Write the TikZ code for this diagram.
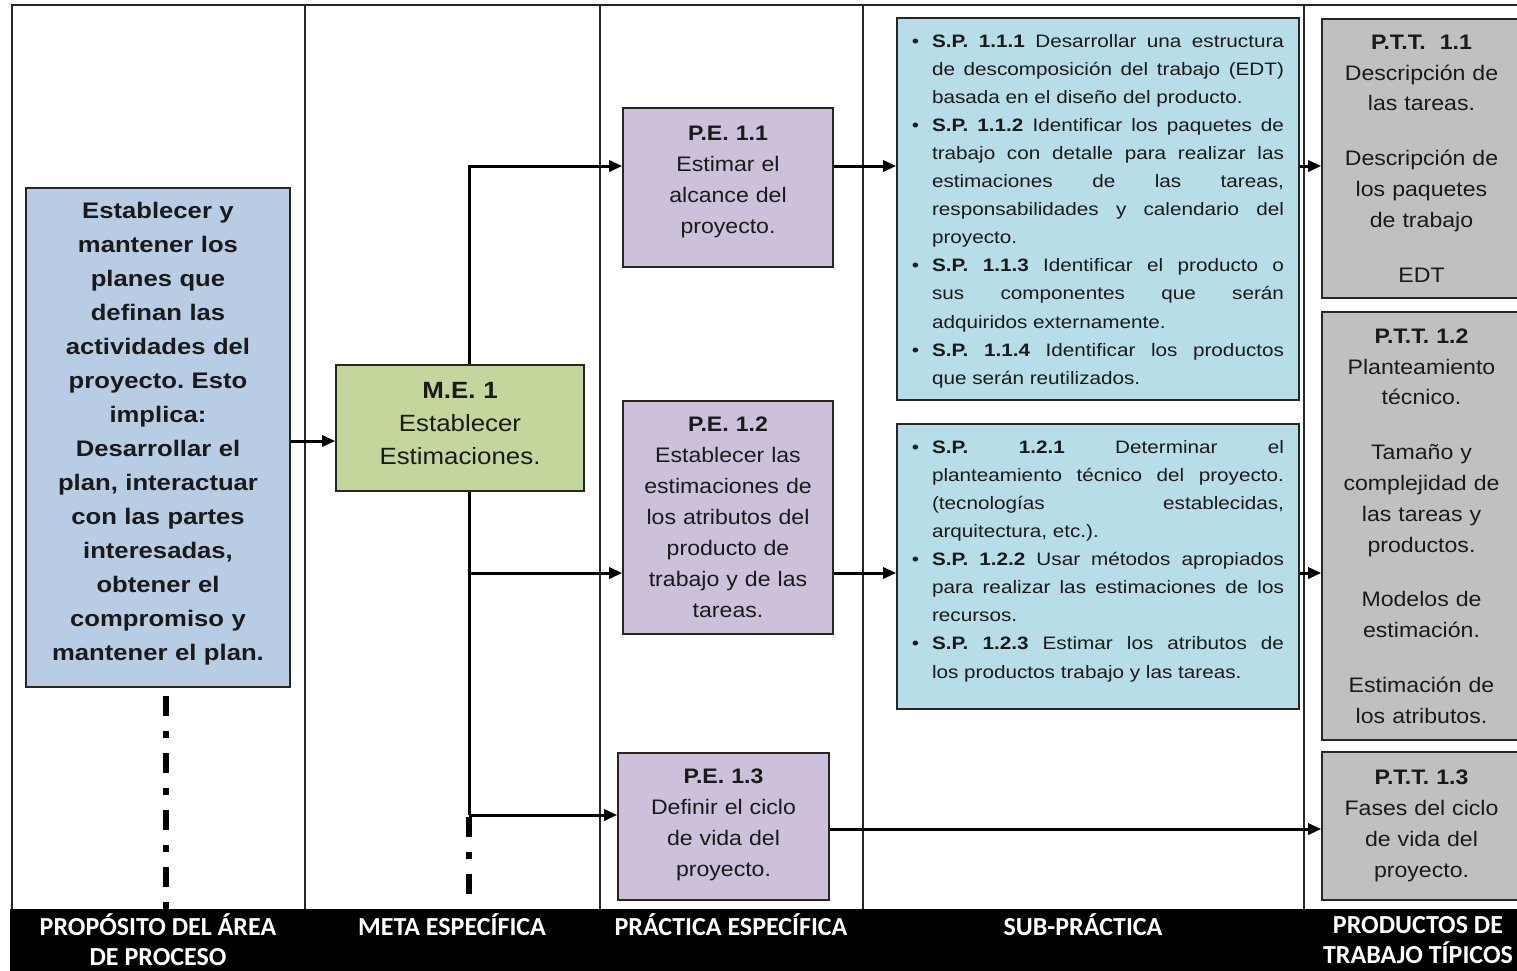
\documentclass[tikz,border=0pt]{standalone}
\usepackage{fontspec}
\setmainfont{Liberation Sans}
\newfontfamily\boxfont[FakeStretch=1.1]{Liberation Sans}
\newfontfamily\wideboxfont[FakeStretch=1.14]{Liberation Sans}
\newfontfamily\listfont[FakeStretch=1.15]{Liberation Sans}
\newfontfamily\bandfont{Carlito}
\usepackage{enumitem}
\usetikzlibrary{arrows.meta}
\frenchspacing

\definecolor{purposefill}{HTML}{B8CCE4}
\definecolor{goalfill}{HTML}{C3D69B}
\definecolor{practicefill}{HTML}{CCC0DA}
\definecolor{subfill}{HTML}{B7DDE8}
\definecolor{productfill}{HTML}{C0C0C0}
\definecolor{edge}{HTML}{262626}
\definecolor{ink}{HTML}{1A1A1A}

\newenvironment{splist}{\begin{itemize}[nosep,leftmargin=20pt,labelsep=13pt,label=\textbullet]}{\end{itemize}}

\tikzset{
  box/.style={draw=edge, line width=1.6pt, inner sep=0pt, align=center, text=ink},
  lift/.style={execute at end node={\par\vspace{#1}}},
  purposebox/.style={box, fill=purposefill, minimum width=264pt, minimum height=499pt,
    text width=256pt, font=\wideboxfont\bfseries\fontsize{22.5}{34}\selectfont},
  goalbox/.style={box, fill=goalfill, minimum width=248pt, minimum height=126pt,
    text width=230pt, font=\boxfont\fontsize{23.5}{33}\selectfont},
  practicebox/.style={box, fill=practicefill, minimum width=210pt,
    text width=204pt, font=\boxfont\fontsize{21}{31}\selectfont},
  subbox/.style={box, fill=subfill, minimum width=402pt, inner xsep=15pt,
    text width=372pt, align=justify, font=\listfont\fontsize{18}{28.1}\selectfont},
  productbox/.style={box, fill=productfill, minimum width=199pt,
    text width=194pt, font=\boxfont\fontsize{21}{30.8}\selectfont},
  rule/.style={draw=edge, line width=1.4pt},
  wire/.style={line width=3pt, draw=black},
  link/.style={wire, -{Triangle[length=13pt,width=11pt]}},
  dashdot/.style={line width=5.5pt, draw=black, dash pattern=on 20pt off 15pt on 7pt off 15pt},
  bandtext/.style={text=white, align=center, inner sep=0pt,
    font=\bandfont\bfseries\fontsize{26}{30}\selectfont},
}

\begin{document}
\begin{tikzpicture}[x=1pt, y=-1pt]
\useasboundingbox (0,0) rectangle (1517,970);
\clip (0,0) rectangle (1517,970);
\fill[white] (0,0) rectangle (1517,970);

% frame and column rules
\draw[rule] (12,909) -- (12,5) -- (1517,5);
\foreach \cx in {305,600,863,1304} \draw[rule] (\cx,5) -- (\cx,909);

% heading band
\node[fill=black, minimum width=1520pt, minimum height=62pt, inner sep=0pt, anchor=north west]
  (band) at (10,909) {};
\node[bandtext] (h1) at (158,940) {PROPÓSITO DEL ÁREA\\DE PROCESO};
\node[bandtext] (h2) at (452,925) {META ESPECÍFICA};
\node[bandtext] (h3) at (731,925) {PRÁCTICA ESPECÍFICA};
\node[bandtext] (h4) at (1083,925) {SUB-PRÁCTICA};
\node[bandtext] (h5) at (1418,940) {PRODUCTOS DE\\TRABAJO TÍPICOS};

% purpose of the process area
\node[purposebox, lift=8pt] (purpose) at (158,437.5) {Establecer y\\mantener los\\planes que\\definan las\\actividades del\\proyecto. Esto\\implica:\\Desarrollar el\\plan, interactuar\\con las partes\\interesadas,\\obtener el\\compromiso y\\mantener el plan.};

% specific goal
\node[goalbox, lift=8pt] (me) at (460,428) {\textbf{M.E. 1}\\Establecer\\Estimaciones.};

% specific practices
\node[practicebox, minimum height=159pt, lift=12pt] (pe11) at (728,187.5)
  {\textbf{P.E. 1.1}\\Estimar el\\alcance del\\proyecto.};
\node[practicebox, minimum height=233pt] (pe12) at (728,517.5)
  {\textbf{P.E. 1.2}\\Establecer las\\estimaciones de\\los atributos del\\producto de\\trabajo y de las\\tareas.};
\node[practicebox, minimum width=211pt, minimum height=147pt, lift=3pt] (pe13) at (723.5,826.5)
  {\textbf{P.E. 1.3}\\Definir el ciclo\\de vida del\\proyecto.};

% sub-practices
\node[subbox, minimum height=382pt, lift=11pt] (sp1) at (1098,209) {%
\begin{splist}
\item \textbf{S.P. 1.1.1} Desarrollar una estructura\linebreak de descomposición del trabajo (EDT)\linebreak basada en el diseño del producto.
\item \textbf{S.P. 1.1.2} Identificar los paquetes de\linebreak trabajo con detalle para realizar las\linebreak estimaciones de las tareas,\linebreak responsabilidades y calendario del\linebreak proyecto.
\item \textbf{S.P. 1.1.3} Identificar el producto o\linebreak sus componentes que serán\linebreak adquiridos externamente.
\item \textbf{S.P. 1.1.4} Identificar los productos\linebreak que serán reutilizados.
\end{splist}};
\node[subbox, minimum height=285pt, lift=26pt] (sp2) at (1098,566.5) {%
\begin{splist}
\item \textbf{S.P. 1.2.1} Determinar el\linebreak planteamiento técnico del proyecto.\linebreak (tecnologías establecidas,\linebreak arquitectura, etc.).
\item \textbf{S.P. 1.2.2} Usar métodos apropiados\linebreak para realizar las estimaciones de los\linebreak recursos.
\item \textbf{S.P. 1.2.3} Estimar los atributos de\linebreak los productos trabajo y las tareas.
\end{splist}};

% typical work products
\node[productbox, minimum height=279pt] (ptt11) at (1421.5,158.5)
  {\textbf{P.T.T.~ 1.1}\\Descripción de\\las tareas.\\[24pt]Descripción de\\los paquetes\\de trabajo\\[24pt]EDT};
\node[productbox, minimum height=428pt] (ptt12) at (1421.5,526)
  {\textbf{P.T.T. 1.2}\\Planteamiento\\técnico.\\[24pt]Tamaño y\\complejidad de\\las tareas y\\productos.\\[24pt]Modelos de\\estimación.\\[24pt]Estimación de\\los atributos.};
\node[productbox, minimum height=148pt] (ptt13) at (1421.5,826)
  {\textbf{P.T.T. 1.3}\\Fases del ciclo\\de vida del\\proyecto.};

% connector rows and trunk
\coordinate (trunk) at (469,0);
\coordinate (rowA) at (0,166);
\coordinate (rowB) at (0,573);
\coordinate (rowC) at (0,815);
\coordinate (rowD) at (0,829);
\coordinate (rowE) at (0,441);

\draw[link] (purpose.east |- rowE) -- (me.west |- rowE);
\draw[link] (me.north -| trunk) |- (pe11.west |- rowA);
\draw[wire] (me.south -| trunk) -- (trunk |- rowC);
\draw[link] (trunk |- rowB) -- (pe12.west |- rowB);
\draw[link] (trunk |- rowC) -- (pe13.west |- rowC);

\draw[link] (pe11.east |- rowA) -- (sp1.west |- rowA);
\draw[link] (sp1.east |- rowA) -- (ptt11.west |- rowA);
\draw[link] (pe12.east |- rowB) -- (sp2.west |- rowB);
\draw[link] (sp2.east |- rowB) -- (ptt12.west |- rowB);
\draw[link] (pe13.east |- rowD) -- (ptt13.west |- rowD);

% continuation marks
\draw[dashdot] ([xshift=8pt, yshift=-8pt]purpose.south) -- ([xshift=8pt]purpose.south |- band.north);
\draw[dashdot] ([yshift=-2pt]trunk |- rowC) -- (trunk |- band.north);
\end{tikzpicture}
\end{document}
